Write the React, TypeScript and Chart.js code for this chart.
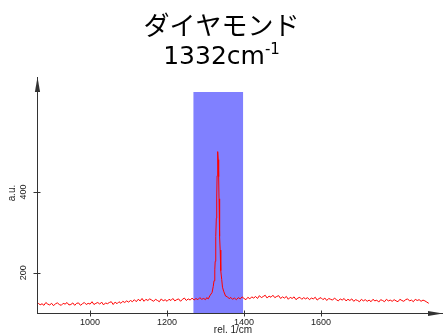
import React, { useEffect, useRef } from 'react';
import { Chart, registerables } from 'chart.js';

Chart.register(...registerables);

const titleLine1 = 'ダイヤモンド';
const titleLine2 = '1332cm';
const titleSup = '-1';
const xTitle = 'rel. 1/cm';
const yTitle = 'a.u.';

const xTicks = [1000, 1200, 1400, 1600];
const yTicks = [200, 400];
const xRange = [862, 1917];
const yRange = [100, 685];

const bandRange = [1268, 1398];
const bandTop = 648;

const baseX1 = [
  865, 870, 875, 880, 885, 890, 895, 900, 905, 910,
  915, 920, 925, 930, 935, 940, 945, 950, 955, 960,
  965, 970, 975, 980, 985, 990, 995, 1000, 1005, 1010,
  1015, 1020, 1025, 1030, 1035, 1040, 1045, 1050, 1055, 1060,
  1065, 1070, 1075, 1080, 1085, 1090, 1095, 1100, 1105, 1110,
  1115, 1120, 1125, 1130, 1135, 1140, 1145, 1150, 1155, 1160,
  1165, 1170, 1175, 1180, 1185, 1190, 1195, 1200, 1205, 1210,
  1215, 1220, 1225, 1230, 1235, 1240, 1245, 1250, 1255, 1260,
  1265, 1270, 1275, 1280, 1285, 1290, 1295,
];
const baseY1 = [
  125, 120, 123, 119, 126, 122, 120, 124, 118, 123,
  125, 121, 119, 124, 122, 126, 120, 121, 125, 119,
  124, 125, 119, 123, 126, 121, 124, 122, 128, 121,
  124, 126, 122, 127, 120, 125, 123, 126, 128, 121,
  127, 123, 128, 124, 129, 126, 130, 127, 131, 128,
  133, 128, 134, 130, 136, 129, 134, 131, 135, 132,
  129, 134, 131, 128, 135, 130, 133, 129, 134, 131,
  136, 130, 133, 135, 129, 134, 137, 131, 135, 132,
  137, 132, 136, 133, 138, 134, 136,
];

const peakX = [
  1300, 1303, 1307, 1312, 1317, 1320, 1322, 1324, 1325, 1326,
  1327, 1328, 1329, 1330, 1331, 1332, 1333, 1334, 1335, 1336,
  1337, 1338, 1339, 1340, 1342, 1344, 1347, 1352, 1357, 1362,
];
const peakY = [
  133, 138, 135, 144, 151, 166, 180, 207, 228, 255,
  290, 335, 385, 440, 482, 500, 480, 438, 383, 333,
  290, 256, 228, 205, 183, 164, 154, 142, 140, 135,
];

const baseX2 = [
  1365, 1370, 1375, 1380, 1385, 1390, 1395, 1400, 1405, 1410,
  1415, 1420, 1425, 1430, 1435, 1440, 1445, 1450, 1455, 1460,
  1465, 1470, 1475, 1480, 1485, 1490, 1495, 1500, 1505, 1510,
  1515, 1520, 1525, 1530, 1535, 1540, 1545, 1550, 1555, 1560,
  1565, 1570, 1575, 1580, 1585, 1590, 1595, 1600, 1605, 1610,
  1615, 1620, 1625, 1630, 1635, 1640, 1645, 1650, 1655, 1660,
  1665, 1670, 1675, 1680, 1685, 1690, 1695, 1700, 1705, 1710,
  1715, 1720, 1725, 1730, 1735, 1740, 1745, 1750, 1755, 1760,
  1765, 1770, 1775, 1780, 1785, 1790, 1795, 1800, 1805, 1810,
  1815, 1820, 1825, 1830, 1835, 1840, 1845, 1850, 1855, 1860,
  1865, 1870, 1875, 1880,
];
const baseY2 = [
  139, 134, 137, 133, 138, 135, 140, 136, 133, 139,
  135, 140, 137, 141, 136, 143, 138, 141, 144, 137,
  142, 139, 144, 138, 141, 143, 136, 140, 137, 141,
  134, 139, 136, 140, 133, 137, 139, 134, 138, 135,
  138, 133, 137, 135, 139, 132, 136, 138, 133, 137,
  131, 136, 134, 132, 137, 133, 130, 135, 132, 136,
  130, 134, 131, 135, 129, 133, 131, 128, 134, 130,
  133, 129, 132, 128, 134, 130, 132, 127, 133, 131,
  128, 134, 130, 132, 129, 133, 130, 128, 134, 131,
  129, 133, 135, 130, 132, 128, 134, 131, 133, 129,
  132, 130, 127, 124,
];

const spectrumX = [...baseX1, ...peakX, ...baseX2];
const spectrumY = [...baseY1, ...peakY, ...baseY2];

const W = 443;
const H = 335;

export default function App() {
  const ref = useRef<HTMLCanvasElement>(null);

  useEffect(() => {
    const canvas = ref.current;
    if (!canvas) return;
    const axisColor = '#333333';
    const textColor = '#222222';

    const overlay = {
      id: 'overlay',
      afterDraw(chart: any) {
        const { ctx, chartArea: a, scales } = chart;
        const xs = scales.x;
        const ys = scales.y;
        const ax = Math.round(a.left) + 0.5;
        const ay = Math.round(a.bottom) + 0.5;
        ctx.save();
        ctx.strokeStyle = axisColor;
        ctx.fillStyle = axisColor;
        ctx.lineWidth = 1;
        ctx.beginPath();
        xs.ticks.forEach((t: any) => {
          const px = Math.round(xs.getPixelForValue(t.value)) + 0.5;
          ctx.moveTo(px, ay - 3);
          ctx.lineTo(px, ay + 3);
        });
        ys.ticks.forEach((t: any) => {
          const py = Math.round(ys.getPixelForValue(t.value)) + 0.5;
          ctx.moveTo(ax - 4, py);
          ctx.lineTo(ax + 3, py);
        });
        ctx.stroke();
        // arrow heads
        ctx.beginPath();
        ctx.moveTo(ax, a.top);
        ctx.lineTo(ax - 2.6, a.top + 15);
        ctx.lineTo(ax + 2.6, a.top + 15);
        ctx.closePath();
        ctx.fill();
        ctx.beginPath();
        ctx.moveTo(a.right, ay);
        ctx.lineTo(a.right - 15, ay - 2.6);
        ctx.lineTo(a.right - 15, ay + 2.6);
        ctx.closePath();
        ctx.fill();

        // axis titles
        ctx.fillStyle = textColor;
        ctx.font = '10px "Liberation Sans", Arial, sans-serif';
        ctx.textAlign = 'center';
        ctx.textBaseline = 'middle';
        ctx.fillText(xTitle, 233, 330);
        ctx.save();
        ctx.translate(12.5, 193);
        ctx.rotate(-Math.PI / 2);
        ctx.fillText(yTitle, 0, 0);
        ctx.restore();

        // title
        ctx.fillStyle = '#000000';
        ctx.textBaseline = 'alphabetic';
        ctx.textAlign = 'center';
        ctx.font = '26px "Noto Sans CJK JP", sans-serif';
        ctx.fillText(titleLine1, W / 2, 35);
        ctx.textAlign = 'left';
        ctx.font = '25px "DejaVu Sans", sans-serif';
        const w1 = ctx.measureText(titleLine2).width;
        ctx.font = '15px "DejaVu Sans", sans-serif';
        const w2 = ctx.measureText(titleSup).width;
        const x0 = W / 2 - (w1 + w2) / 2;
        ctx.font = '25px "DejaVu Sans", sans-serif';
        ctx.fillText(titleLine2, x0, 64);
        ctx.font = '15px "DejaVu Sans", sans-serif';
        ctx.fillText(titleSup, x0 + w1, 54);
        ctx.restore();
      },
    };

    const tickFont = { family: '"Liberation Sans", Arial, sans-serif', size: 9 };

    const chart = new Chart(canvas, {
      type: 'line',
      data: {
        datasets: [
          {
            label: 'spectrum',
            data: spectrumX.map((x, i) => ({ x, y: spectrumY[i] })),
            borderColor: '#ff0000',
            borderWidth: 1,
            pointRadius: 0,
            fill: false,
            tension: 0,
            order: 0,
          },
          {
            label: 'band',
            data: bandRange.map((x) => ({ x, y: bandTop })),
            borderWidth: 0,
            borderColor: 'rgba(0,0,0,0)',
            backgroundColor: '#8080ff',
            pointRadius: 0,
            fill: 'start',
            order: 1,
          },
        ],
      },
      options: {
        responsive: false,
        animation: false,
        events: [],
        layout: { padding: { top: 77, left: 0, right: 0, bottom: 0 } },
        plugins: {
          legend: { display: false },
          tooltip: { enabled: false },
          title: { display: false },
        },
        scales: {
          x: {
            type: 'linear',
            min: xRange[0],
            max: xRange[1],
            afterBuildTicks: (s: any) => {
              s.ticks = xTicks.map((v) => ({ value: v }));
            },
            afterFit: (s: any) => {
              s.height = H - 313;
            },
            grid: { display: false, drawTicks: false },
            border: { display: true, color: axisColor, width: 1 },
            ticks: {
              padding: 4,
              color: textColor,
              font: tickFont,
              maxRotation: 0,
              minRotation: 0,
              autoSkip: false,
              callback: (v: any) => String(v),
            },
          },
          y: {
            type: 'linear',
            min: yRange[0],
            max: yRange[1],
            afterBuildTicks: (s: any) => {
              s.ticks = yTicks.map((v) => ({ value: v }));
            },
            afterFit: (s: any) => {
              s.width = 37;
            },
            grid: { display: false, drawTicks: false },
            border: { display: true, color: axisColor, width: 1 },
            ticks: {
              padding: 6,
              color: textColor,
              crossAlign: 'center',
              minRotation: 90,
              maxRotation: 90,
              autoSkip: false,
              font: tickFont,
              callback: (v: any) => String(v),
            },
          },
        },
      },
      plugins: [overlay],
    } as any);

    return () => chart.destroy();
  }, []);

  return (
    <div style={{ position: 'fixed', left: 0, top: 0, width: W, height: H, background: '#fff' }}>
      <canvas ref={ref} width={W} height={H} style={{ display: 'block', width: W, height: H }} />
    </div>
  );
}
